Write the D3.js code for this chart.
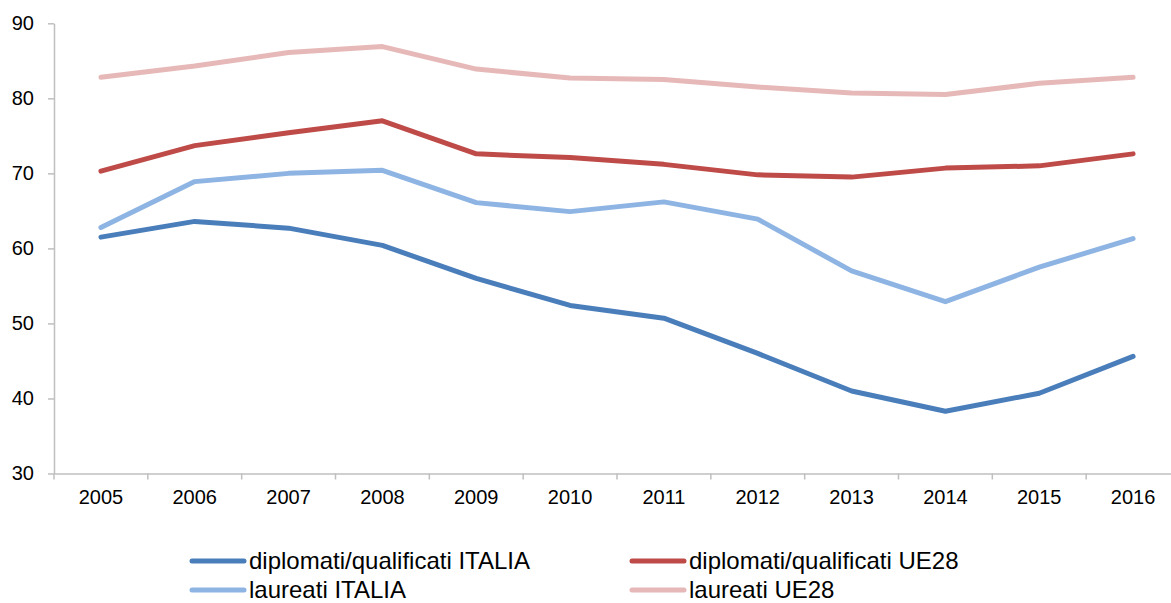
<!DOCTYPE html>
<html>
<head>
<meta charset="utf-8">
<script src="https://cdn.jsdelivr.net/npm/d3@7"></script>
<style>
  body { margin: 0; background: #fff; }
  svg { display: block; font-family: 'Liberation Sans', Arial, sans-serif; }
  .axis path, .axis line { stroke: #bfbfbf; stroke-width: 1.5; }
  .axis text { fill: #000; font-size: 20px; }
</style>
</head>
<body>
<svg width="1171" height="603"></svg>
<script>

let years = ['2005', '2006', '2007', '2008', '2009', '2010', '2011', '2012', '2013', '2014', '2015', '2016'];
let yTicks = [30, 40, 50, 60, 70, 80, 90];

let seriesNames = ['diplomati/qualificati ITALIA', 'diplomati/qualificati UE28', 'laureati ITALIA', 'laureati UE28'];
let seriesColors = ['#4a7ebb', '#be4b48', '#8eb4e3', '#e6b9b8'];

let diplomatiItalia = [61.5, 63.6, 62.7, 60.4, 56.0, 52.4, 50.7, 46.0, 41.0, 38.3, 40.7, 45.6];
let diplomatiUE28   = [70.3, 73.7, 75.4, 77.0, 72.6, 72.1, 71.2, 69.8, 69.5, 70.7, 71.0, 72.6];
let laureatiItalia  = [62.8, 68.9, 70.0, 70.4, 66.1, 64.9, 66.2, 63.9, 57.0, 52.9, 57.5, 61.3];
let laureatiUE28    = [82.8, 84.3, 86.1, 86.9, 83.9, 82.7, 82.5, 81.5, 80.7, 80.5, 82.0, 82.8];

let svg = d3.select('svg');

let margin = { top: 23.3, left: 54, bottom: 473.5, right: 1180 };

let x = d3.scaleBand()
    .domain(years)
    .range([margin.left, margin.right]);

let y = d3.scaleLinear()
    .domain([30, 90])
    .range([margin.bottom, margin.top]);

// y axis
svg.append('g')
    .attr('class', 'axis')
    .attr('transform', 'translate(' + margin.left + ',0)')
    .call(d3.axisLeft(y).tickValues(yTicks).tickSize(6).tickSizeOuter(0).tickPadding(14));

// x axis: labels centred, ticks on the band edges
let xAxis = svg.append('g')
    .attr('class', 'axis')
    .attr('transform', 'translate(0,' + y(30) + ')')
    .call(d3.axisBottom(x).tickSize(0).tickSizeOuter(0).tickPadding(16));

xAxis.selectAll('.edge')
    .data(years)
    .enter().append('line')
    .attr('class', 'edge')
    .attr('x1', d => x(d))
    .attr('x2', d => x(d))
    .attr('y1', 0)
    .attr('y2', 6);

// lines
let allSeries = [diplomatiItalia, diplomatiUE28, laureatiItalia, laureatiUE28];

let line = d3.line()
    .x((d, i) => x(years[i]) + x.bandwidth() / 2)
    .y(d => y(d));

svg.append('g')
    .selectAll('path')
    .data(allSeries)
    .enter().append('path')
    .attr('d', line)
    .attr('fill', 'none')
    .attr('stroke', (d, i) => seriesColors[i])
    .attr('stroke-width', 5)
    .attr('stroke-linecap', 'round')
    .attr('stroke-linejoin', 'round');

// legend (second row kept just inside the bottom edge)
let legendPos = [[192, 561], [632, 561], [192, 590], [632, 590]];

let item = svg.append('g')
    .selectAll('g')
    .data(seriesNames)
    .enter().append('g')
    .attr('transform', (d, i) => 'translate(' + legendPos[i][0] + ',' + legendPos[i][1] + ')');

item.append('line')
    .attr('x1', 0)
    .attr('x2', 52)
    .attr('stroke', (d, i) => seriesColors[i])
    .attr('stroke-width', 5)
    .attr('stroke-linecap', 'round');

item.append('text')
    .attr('x', 57)
    .attr('dy', 7.5)
    .style('font-size', '24px')
    .text(d => d);

</script>
</body>
</html>
